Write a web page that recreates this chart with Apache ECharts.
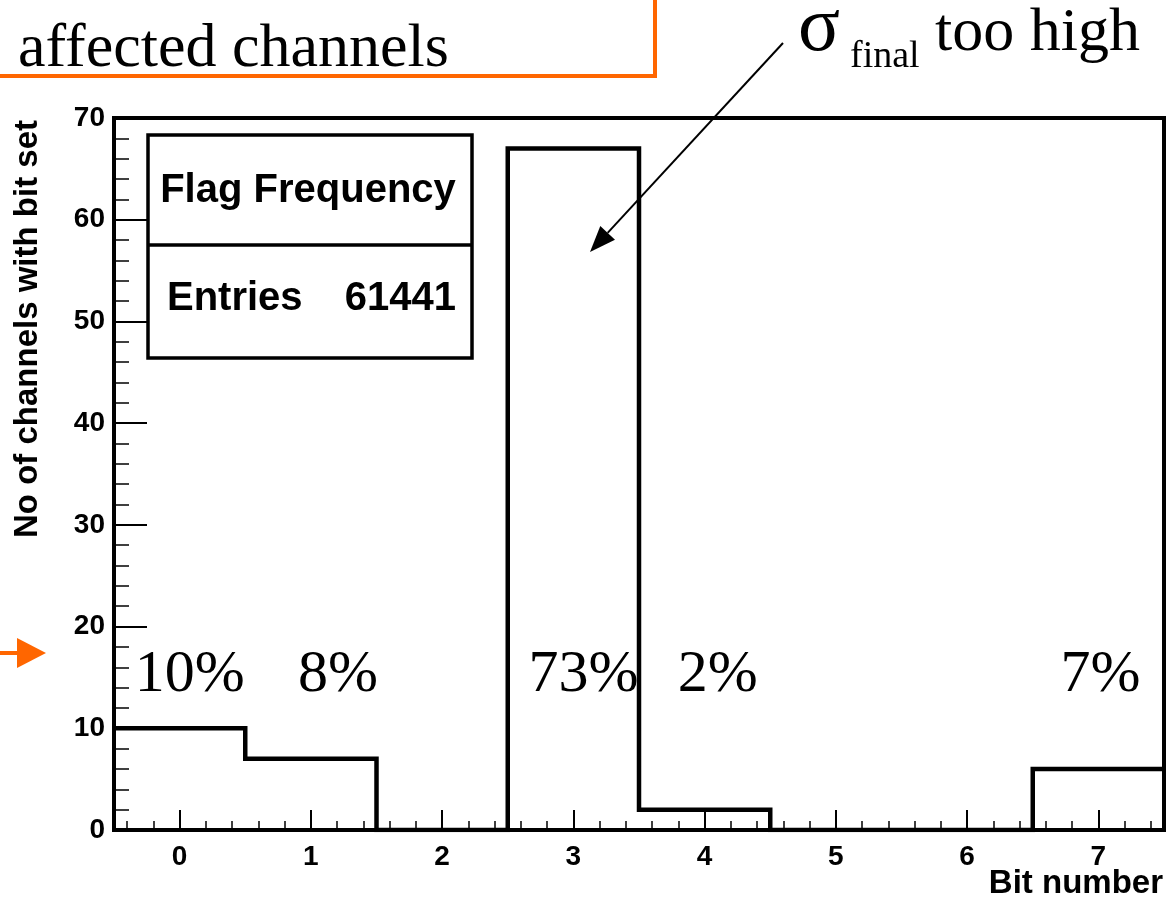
<!DOCTYPE html>
<html>
<head>
<meta charset="utf-8">
<script src="https://cdn.jsdelivr.net/npm/echarts@6/dist/echarts.min.js"></script>
<style>
  html, body { margin: 0; padding: 0; background: #ffffff; }
  #chart { width: 1167px; height: 900px; }
</style>
</head>
<body>
<div id="chart"></div>
<script>
// Flag bit histogram: number of channels with each quality bit set
const bits = [0, 1, 2, 3, 4, 5, 6, 7];
const channelCounts = [10, 7, 0, 67, 2, 0, 0, 6];
const bitShares = ['10%', '8%', '', '73%', '2%', '', '', '7%'];
const yTickValues = [0, 10, 20, 30, 40, 50, 60, 70];
const statsTitle = 'Flag Frequency';
const statsEntries = '61441';
const xTitle = 'Bit number';
const yTitle = 'No of channels with bit set';

const SANS = 'Liberation Sans, Arial, Helvetica, sans-serif';
const SERIF = 'Liberation Serif, Times New Roman, serif';
const ORANGE = '#ff6600';

// Step outline of the histogram: each bin spans [b-0.5, b+0.5]
const outline = [];
bits.forEach((b, i) => {
  outline.push([b - 0.5, channelCounts[i]]);
  outline.push([b + 0.5, channelCounts[i]]);
});

// Minor x ticks every 0.2 between the integer bins
const minorX = [];
for (let i = -2; i <= 37; i++) {
  if (i % 5 !== 0) minorX.push(+(i * 0.2).toFixed(1));
}

const chart = echarts.init(document.getElementById('chart'), null, { renderer: 'canvas' });

chart.setOption({
  animation: false,
  backgroundColor: '#ffffff',
  grid: {
    left: 114, right: 3, top: 118, bottom: 70,
    show: true, borderColor: '#000', borderWidth: 4, backgroundColor: 'transparent'
  },
  xAxis: [{
    type: 'value', min: -0.5, max: 7.5, position: 'bottom',
    axisLine: { show: true, onZero: false, lineStyle: { color: '#000', width: 4 } },
    axisTick: { show: true, inside: true, length: 20, customValues: bits, lineStyle: { color: '#000', width: 2 } },
    axisLabel: { customValues: bits, color: '#000', fontSize: 28, fontWeight: 'bold', fontFamily: SANS, margin: 13 },
    splitLine: { show: false }
  }, {
    type: 'value', min: -0.5, max: 7.5, position: 'bottom',
    axisLine: { show: false, onZero: false },
    axisTick: { show: true, inside: true, length: 9, customValues: minorX, lineStyle: { color: '#000', width: 1.5 } },
    axisLabel: { show: false },
    splitLine: { show: false }
  }],
  yAxis: {
    type: 'value', min: 0, max: 70, interval: 10, position: 'left',
    axisLine: { show: true, onZero: false, lineStyle: { color: '#000', width: 4 } },
    axisTick: { show: true, inside: true, length: 33, lineStyle: { color: '#000', width: 2 } },
    minorTick: { show: true, splitNumber: 5, length: 15, lineStyle: { color: '#000', width: 1.5 } },
    axisLabel: {
      color: '#000', fontSize: 28, fontWeight: 'bold', fontFamily: SANS, margin: 9,
      customValues: yTickValues
    },
    splitLine: { show: false },
    minorSplitLine: { show: false }
  },
  series: [{
    type: 'line',
    xAxisIndex: 0,
    data: outline,
    showSymbol: false,
    symbol: 'none',
    lineStyle: { color: '#000', width: 4.5, join: 'miter' },
    z: 5
  }]
});

// Annotations and stats box
function arrowHead(x0, y0, x1, y1, len, half) {
  const dx = x1 - x0, dy = y1 - y0;
  const d = Math.hypot(dx, dy);
  const ux = dx / d, uy = dy / d;
  const bx = x1 - ux * len, by = y1 - uy * len;
  return [[x1, y1], [bx - uy * half, by + ux * half], [bx + uy * half, by - ux * half]];
}

const graphics = [];

// Orange callout box (upper left)
graphics.push({
  type: 'rect', shape: { x: -20, y: -20, width: 675, height: 96 },
  style: { fill: '#fff', stroke: ORANGE, lineWidth: 4 }, z: 10
});
graphics.push({
  type: 'text', x: -31, y: -30, z: 11,
  style: { text: 'Flag warning frequency', font: '62px ' + SERIF, fill: '#000', verticalAlign: 'middle' }
});
graphics.push({
  type: 'text', x: 18, y: 50, z: 11,
  style: { text: 'affected channels', font: '62px ' + SERIF, fill: '#000', verticalAlign: 'middle' }
});

// Orange pointer on the left
graphics.push({
  type: 'line', shape: { x1: 0, y1: 653, x2: 20, y2: 653 },
  style: { stroke: ORANGE, lineWidth: 4 }, z: 10
});
graphics.push({
  type: 'polygon', shape: { points: [[17, 638], [46, 653], [17, 668]] },
  style: { fill: ORANGE }, z: 10
});

// sigma_final label and arrow
graphics.push({
  type: 'text', x: 798, y: 30, z: 11,
  style: { text: 'σ', font: '78px ' + SERIF, fill: '#000', verticalAlign: 'middle' }
});
graphics.push({
  type: 'text', x: 850, y: 57, z: 11,
  style: { text: 'final', font: '38px ' + SERIF, fill: '#000', verticalAlign: 'middle' }
});
graphics.push({
  type: 'text', x: 935, y: 34, z: 11,
  style: { text: 'too high', font: '62px ' + SERIF, fill: '#000', verticalAlign: 'middle' }
});
const ax0 = 783, ay0 = 43, ax1 = 590, ay1 = 252;
const head = arrowHead(ax0, ay0, ax1, ay1, 26, 10);
const hx = (head[1][0] + head[2][0]) / 2, hy = (head[1][1] + head[2][1]) / 2;
graphics.push({
  type: 'line', shape: { x1: ax0, y1: ay0, x2: hx, y2: hy },
  style: { stroke: '#000', lineWidth: 2 }, z: 12
});
graphics.push({
  type: 'polygon', shape: { points: head }, style: { fill: '#000' }, z: 12
});

// Stats box
graphics.push({
  type: 'rect', shape: { x: 148, y: 135, width: 324, height: 223 },
  style: { fill: '#fff', stroke: '#000', lineWidth: 3.5 }, z: 10
});
graphics.push({
  type: 'line', shape: { x1: 148, y1: 245, x2: 472, y2: 245 },
  style: { stroke: '#000', lineWidth: 3.5 }, z: 11
});
graphics.push({
  type: 'text', x: 308, y: 191, z: 11,
  style: { text: statsTitle, font: 'bold 40px ' + SANS, fill: '#000', align: 'center', verticalAlign: 'middle' }
});
graphics.push({
  type: 'text', x: 167, y: 299, z: 11,
  style: { text: 'Entries', font: 'bold 40px ' + SANS, fill: '#000', align: 'left', verticalAlign: 'middle' }
});
graphics.push({
  type: 'text', x: 456, y: 299, z: 11,
  style: { text: statsEntries, font: 'bold 40px ' + SANS, fill: '#000', align: 'right', verticalAlign: 'middle' }
});

// Axis titles
graphics.push({
  type: 'text', x: 1163, y: 884, z: 11,
  style: { text: xTitle, font: 'bold 33px ' + SANS, fill: '#000', align: 'right', verticalAlign: 'middle' }
});
graphics.push({
  type: 'text', x: 28, y: 120, rotation: Math.PI / 2, z: 11,
  style: { text: yTitle, font: 'bold 33px ' + SANS, fill: '#000', align: 'right', verticalAlign: 'middle' }
});

// Share of flagged channels above each bin
const shareNudge = [10, 27, 0, 10, 13, 0, 0, 2];
bits.forEach((b, i) => {
  if (!bitShares[i]) return;
  const p = chart.convertToPixel({ xAxisIndex: 0, yAxisIndex: 0 }, [b, 0]);
  graphics.push({
    type: 'text', x: p[0] + shareNudge[i], y: 675, z: 11,
    style: { text: bitShares[i], font: '60px ' + SERIF, fill: '#000', align: 'center', verticalAlign: 'middle' }
  });
});

chart.setOption({ graphic: graphics });
</script>
</body>
</html>
